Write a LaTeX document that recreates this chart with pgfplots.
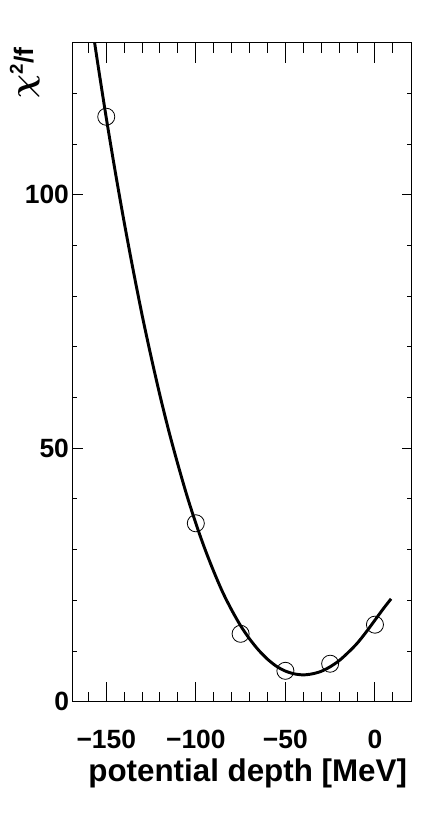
\documentclass[border=0pt]{standalone}
\usepackage{pgfplots}
\pgfplotsset{compat=1.18}
\usepackage{fontspec}
\setmainfont{Liberation Sans}

\begin{document}
\begin{tikzpicture}
\useasboundingbox (-54.5pt,-91.7pt) rectangle (263.5pt,526.3pt);
\pgfplotsset{
  rootframe/.style={
    scale only axis,
    width=254.25pt, height=494.25pt,
    at={(0,0)}, anchor=south west,
    xmin=-168.75, xmax=20.5,
    ymin=0, ymax=130,
    axis line style={line width=0.9pt},
    tick align=inside,
    xtick pos=both, ytick pos=both,
    xticklabel pos=lower, yticklabel pos=left,
    every tick/.style={black, line width=0.75pt},
    tick label style={font=\fontsize{19.8}{19.8}\selectfont\bfseries, inner sep=0pt},
  }
}
% x ticks (longer in the original)
\begin{axis}[
  rootframe,
  ytick=\empty,
  xtick={-150,-100,-50,0},
  xticklabels={−150,−100,−50,0},
  minor xtick={-160,-140,-130,-120,-110,-90,-80,-70,-60,-40,-30,-20,-10,10},
  major tick length=15pt, minor tick length=7.5pt,
  xticklabel style={yshift=-21.2pt},
  xlabel={potential depth [MeV]},
  xlabel style={at={(axis description cs:1,-0.1214)}, anchor=base east,
    font=\fontsize{23.5}{23.5}\selectfont\bfseries},
]
\end{axis}
% y ticks, fit curve and points
\begin{axis}[
  rootframe,
  xtick=\empty,
  ytick={0,50,100},
  yticklabels={0,50,100},
  minor ytick={10,20,30,40,60,70,80,90,110,120},
  major tick length=7.5pt, minor tick length=3.4pt,
  yticklabel style={xshift=-2.6pt},
  ylabel={{\fontsize{27}{27}\selectfont\boldmath$\chi$}\textsuperscript{2}/f},
  ylabel style={at={(axis description cs:-0.117,1)}, anchor=base east,
    font=\fontsize{20}{20}\selectfont\bfseries},
  clip=true,
]
\addplot[black, line width=2.2pt, smooth, no markers] coordinates {
  (-160,138.3) (-155,126.5) (-150,115.2) (-145,104.6) (-140,94.6)
  (-135,85.2) (-130,76.3) (-125,68.1) (-120,60.4) (-115,53.3)
  (-110,46.8) (-105,40.7) (-100,35.2) (-95,30.2) (-90,25.7)
  (-85,21.6) (-80,18.1) (-75,15.0) (-70,12.4) (-65,10.2)
  (-60,8.4) (-55,7.0) (-50,6.05) (-45,5.5) (-40,5.3)
  (-35,5.5) (-30,6.0) (-25,6.9) (-20,8.1) (-15,9.7)
  (-10,11.5) (-5,13.7) (0,16.1) (5,18.5) (9,20.3)
};
\addplot[only marks, mark=o, mark size=6.4pt, mark options={line width=0.6pt, black}] coordinates {
  (-150,115.4) (-100,35.2) (-75,13.4) (-50,6.1) (-25,7.5) (0,15.2)
};
\end{axis}
\end{tikzpicture}
\end{document}
